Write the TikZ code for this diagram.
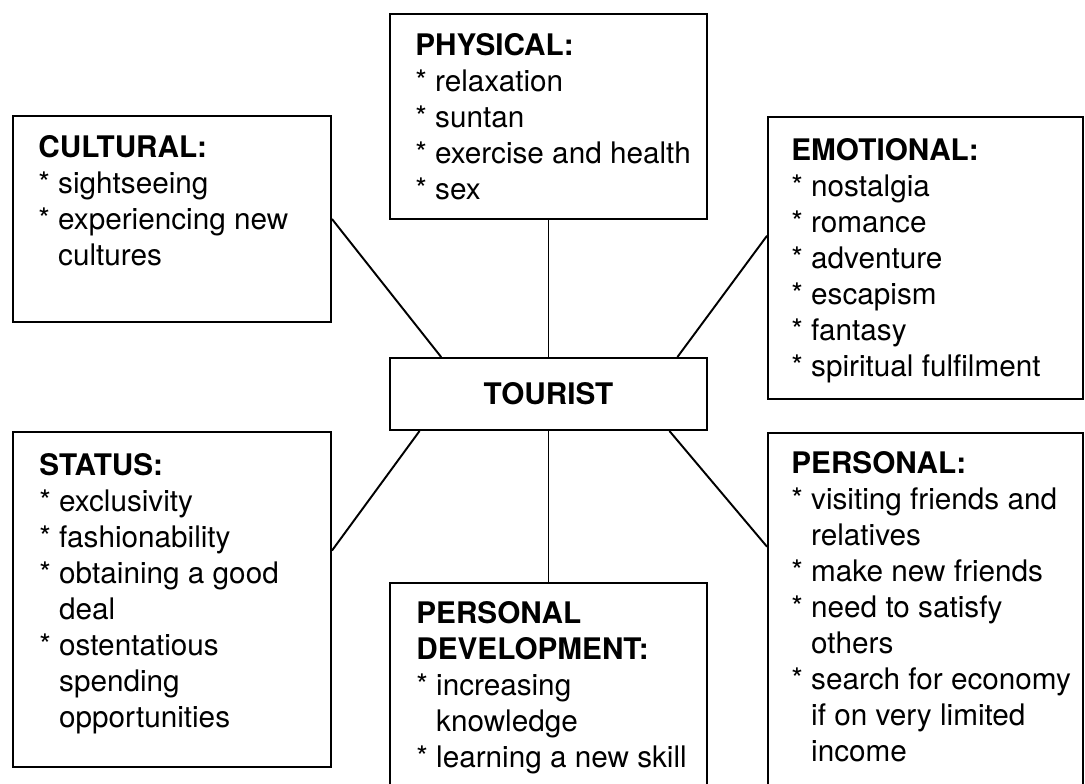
\documentclass[tikz,border=0pt]{standalone}
\usepackage{fontspec}
\setmainfont{TeX Gyre Heros}
\usetikzlibrary{positioning}

% indent for a wrapped list line
\newcommand{\cont}{\hphantom{* }}

\begin{document}
\begin{tikzpicture}[frame/.style={draw,line width=1.1pt,inner sep=0},
                    list/.style={anchor=north west,align=left,inner sep=0,font=\fontsize{16.9}{20.5}\selectfont},
                    link/.style={line width=1.1pt}]
        \useasboundingbox (0,0) rectangle (21.7,15.66);
        % boxes
        \node[frame,minimum width=6.34cm,minimum height=1.44cm,font=\fontsize{16.9}{20.5}\selectfont\bfseries] (tourist) at (10.97,7.78) {TOURIST};
        \node[frame,minimum width=6.34cm,minimum height=4.1cm] (physical) at (10.97,13.33) {};
        \node[frame,minimum width=6.36cm,minimum height=4.12cm] (cultural) at (3.44,11.28) {};
        \node[frame,minimum width=6.3cm,minimum height=5.64cm] (emotional) at (18.51,10.5) {};
        \node[frame,minimum width=6.36cm,minimum height=6.7cm] (status) at (3.44,3.67) {};
        \node[frame,minimum width=6.3cm,minimum height=7.24cm] (personal) at (18.51,3.38) {};
        \node[frame,minimum width=6.34cm,minimum height=4.24cm] (develop) at (10.97,1.88) {};
        % lists
        \node[list] (physical-t) at ([shift={(0.52,-0.4)}]physical.north west) {\textbf{PHYSICAL:}\\{*} relaxation\\{*} suntan\\{*} exercise and health\\{*} sex};
        \node[list] (cultural-t) at ([shift={(0.52,-0.4)}]cultural.north west) {\textbf{CULTURAL:}\\{*} sightseeing\\{*} experiencing new\\\cont cultures};
        \node[list] (emotional-t) at ([shift={(0.48,-0.44)}]emotional.north west) {\textbf{EMOTIONAL:}\\{*} nostalgia\\{*} romance\\{*} adventure\\{*} escapism\\{*} fantasy\\{*} spiritual fulfilment};
        \node[list] (status-t) at ([shift={(0.54,-0.44)}]status.north west) {\textbf{STATUS:}\\{*} exclusivity\\{*} fashionability\\{*} obtaining a good\\\cont deal\\{*} ostentatious\\\cont spending\\\cont opportunities};
        \node[list] (personal-t) at ([shift={(0.48,-0.38)}]personal.north west) {\textbf{PERSONAL:}\\{*} visiting friends and\\\cont relatives\\{*} make new friends\\{*} need to satisfy\\\cont others\\{*} search for economy\\\cont if on very limited\\\cont income};
        \node[list] (develop-t) at ([shift={(0.54,-0.38)}]develop.north west) {\textbf{PERSONAL}\\\textbf{DEVELOPMENT:}\\{*} increasing\\\cont knowledge\\{*} learning a new skill};
        % links to the centre
        \draw[link] (physical) -- (tourist);
        \draw[link] (tourist) -- (develop);
        \draw[link] (cultural.east) -- (tourist.161.6);
        \draw[link] (emotional.172.4) -- (tourist.16.8);
        \draw[link] (status.17.9) -- (tourist.196.1);
        \draw[link] (personal.157.9) -- (tourist.343.1);
\end{tikzpicture}
\end{document}
